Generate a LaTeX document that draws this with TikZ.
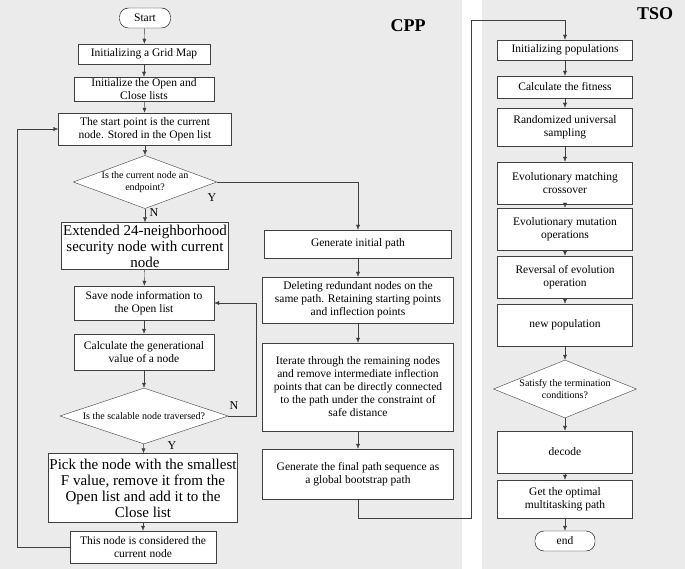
\documentclass[tikz,border=0pt]{standalone}
\usepackage{fontspec}
\setmainfont{Liberation Serif}
\usetikzlibrary{shapes.geometric,arrows.meta}
\definecolor{panel}{HTML}{EBEBEB}
\begin{document}
\begin{tikzpicture}[x=1pt,y=-1pt,
  box/.style={draw=black!75,fill=white,rectangle,align=center,inner sep=1pt,font=\fontsize{11.5}{13}\selectfont},
  big/.style={font=\fontsize{15}{16}\selectfont},
  dia/.style={draw=black!75,fill=white,diamond,aspect=2.7,inner sep=0pt,align=center,font=\fontsize{10}{12}\selectfont},
  term/.style={draw=black,fill=white,rounded corners=9pt,minimum height=20pt,font=\fontsize{11.5}{12}\selectfont},
  arr/.style={draw=black!75,-{Latex[length=5pt,width=4pt]}},
  lab/.style={font=\fontsize{12}{13}\selectfont}]
\useasboundingbox (0,0) rectangle (685,569);
\fill[panel] (0,0) rectangle (462,569);
\fill[panel] (482,0) rectangle (685,569);
\node[font=\bfseries\fontsize{18}{20}\selectfont] at (408,26) {CPP};
\node[font=\bfseries\fontsize{18}{20}\selectfont] at (655,14) {TSO};
% CPP
\node[term,minimum width=51pt] (start) at (145,18) {Start};
\node[box,minimum width=132pt,minimum height=20pt] (grid) at (144,54) {Initializing a Grid Map};
\node[box,minimum width=140pt,minimum height=24pt] (olist) at (144,89) {Initialize the Open and\\Close lists};
\node[box,minimum width=173pt,minimum height=32pt] (sp) at (145,129) {The start point is the current\\node. Stored in the Open list};
\node[dia,minimum width=141pt,minimum height=52pt] (d1) at (145,182) {Is the current node an\\endpoint?};
\node[box,big,minimum width=167pt,minimum height=47pt] (ext) at (145,246) {Extended 24-neighborhood\\security node with current\\node};
\node[box,minimum width=140pt,minimum height=34pt] (save) at (144,303) {Save node information to\\the Open list};
\node[box,minimum width=140pt,minimum height=36pt] (calc) at (144,352) {Calculate the generational\\value of a node};
\node[dia,minimum width=168pt,minimum height=56pt] (d2) at (144,416) {Is the scalable node traversed?};
\node[box,big,minimum width=185pt,minimum height=69pt] (pick) at (143,488) {Pick the node with the smallest\\F value, remove it from the\\Open list and add it to the\\Close list};
\node[box,minimum width=146pt,minimum height=32pt] (cur) at (143,547) {This node is considered the\\current node};
\node[box,minimum width=187pt,minimum height=28pt] (gen) at (358,244) {Generate initial path};
\node[box,minimum width=191pt,minimum height=46pt] (del) at (358,300) {Deleting redundant nodes on the\\same path. Retaining starting points\\and inflection points};
\node[box,minimum width=191pt,minimum height=88pt] (it) at (358,387) {Iterate through the remaining nodes\\and remove intermediate inflection\\points that can be directly connected\\to the path under the constraint of\\safe distance};
\node[box,minimum width=191pt,minimum height=50pt] (fin) at (358,474) {Generate the final path sequence as\\a global bootstrap path};
\draw[arr] (start) -- (grid);
\draw[arr] (grid) -- (olist);
\draw[arr] (olist) -- (sp);
\draw[arr] (sp) -- (d1);
\draw[arr] (d1) -- (ext);
\draw[arr] (ext) -- (save);
\draw[arr] (save) -- (calc);
\draw[arr] (calc) -- (d2);
\draw[arr] (d2) -- (pick);
\draw[arr] (pick) -- (cur);
\draw[arr] (cur.west) -- (17,547) |- (sp.west);
\draw[arr] (d2.east) -- (256,416) |- (save.east);
\draw[arr] (d1.east) -| (gen.north);
\draw[arr] (gen) -- (del);
\draw[arr] (del) -- (it);
\draw[arr] (it) -- (fin);
\node[lab] at (154,213) {N};
\node[lab] at (212,198) {Y};
\node[lab] at (234,406) {N};
\node[lab] at (172,446) {Y};
% TSO
\node[box,minimum width=135pt,minimum height=20pt] (ip) at (565,50) {Initializing populations};
\node[box,minimum width=135pt,minimum height=22pt] (cf) at (565,87) {Calculate the fitness};
\node[box,minimum width=135pt,minimum height=38pt] (rs) at (565,127) {Randomized universal\\sampling};
\node[box,minimum width=135pt,minimum height=42pt] (mc) at (565,183) {Evolutionary matching\\crossover};
\node[box,minimum width=135pt,minimum height=42pt] (mo) at (565,229) {Evolutionary mutation\\operations};
\node[box,minimum width=135pt,minimum height=42pt] (re) at (565,277) {Reversal of evolution\\operation};
\node[box,minimum width=135pt,minimum height=42pt] (np) at (565,325) {new population};
\node[dia,minimum width=142pt,minimum height=58pt] (d3) at (565,389) {Satisfy the termination\\conditions?};
\node[box,minimum width=135pt,minimum height=42pt] (dec) at (565,452) {decode};
\node[box,minimum width=135pt,minimum height=38pt] (go) at (565,499) {Get the optimal\\multitasking path};
\node[term,minimum width=60pt] (end) at (565,541) {end};
\draw[arr] (fin.south) -- (358,518) -- (471,518) -- (471,20) -| (ip.north);
\draw[arr] (ip) -- (cf);
\draw[arr] (cf) -- (rs);
\draw[arr] (rs) -- (mc);
\draw[arr] (mc) -- (mo);
\draw[arr] (mo) -- (re);
\draw[arr] (re) -- (np);
\draw[arr] (np) -- (d3);
\draw[arr] (d3) -- (dec);
\draw[arr] (dec) -- (go);
\draw[arr] (go) -- (end);
\end{tikzpicture}
\end{document}
